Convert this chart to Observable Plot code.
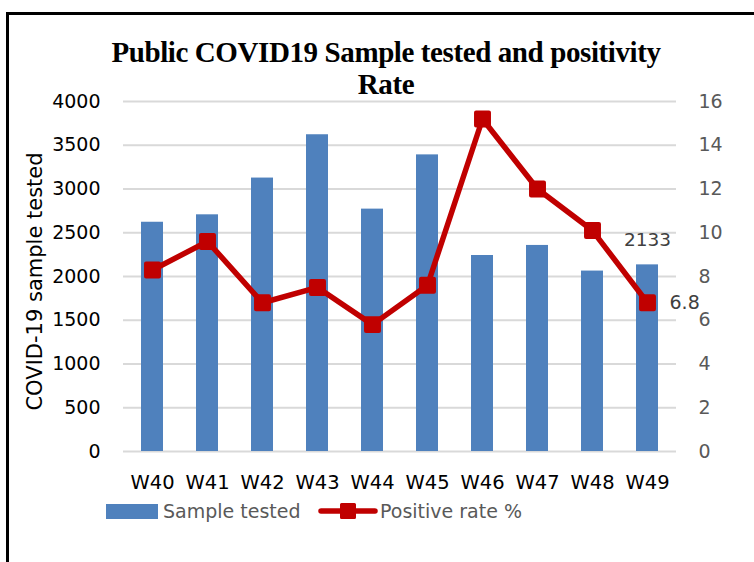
<!DOCTYPE html>
<html>
<head>
<meta charset="utf-8">
<script src="https://cdn.jsdelivr.net/npm/d3@7"></script>
<script src="https://cdn.jsdelivr.net/npm/@observablehq/plot@0.6"></script>
<style>
  html, body { margin: 0; padding: 0; background: #fff; }
  body { width: 754px; height: 562px; position: relative; overflow: hidden; }
  #frame { position: absolute; left: 6px; top: 12px; width: 800px; height: 600px;
           border-top: 3px solid #000; border-left: 3px solid #000; }
  #title { position: absolute; left: 0; top: 36px; width: 772px; text-align: center;
           font-family: "Liberation Serif", "Times New Roman", serif; font-weight: bold;
           font-size: 29px; line-height: 32px; letter-spacing: -0.4px; color: #000; }
  #chart { position: absolute; left: 0; top: 90px; }
  .leg { position: absolute; font-family: "DejaVu Sans", sans-serif; font-size: 19px; color: #595959; line-height: 22px; white-space: nowrap; }
</style>
</head>
<body>
<div id="frame"></div>
<div id="title">Public COVID19 Sample tested and positivity<br>Rate</div>
<div id="chart"></div>
<div id="legend"></div>
<script>
// ---- data ----
const weeks   = ["W40","W41","W42","W43","W44","W45","W46","W47","W48","W49"];
const samples = [2620, 2705, 3125, 3620, 2770, 3390, 2240, 2355, 2062, 2133];
const rates   = [8.3, 9.6, 6.8, 7.5, 5.8, 7.6, 15.2, 12.0, 10.1, 6.8];
const leftTicks  = [0, 500, 1000, 1500, 2000, 2500, 3000, 3500, 4000];
const rightTicks = [0, 2, 4, 6, 8, 10, 12, 14, 16];
const seriesNames = ["Sample tested", "Positive rate %"];
const yTitle = "COVID-19 sample tested";

const BLUE = "#4F81BD", RED = "#C00000";
const k = leftTicks[leftTicks.length - 1] / rightTicks[rightTicks.length - 1]; // secondary axis factor

const rows = weeks.map((w, i) => ({week: w, sample: samples[i], rate: rates[i]}));
const last = rows[rows.length - 1];

const chart = Plot.plot({
  width: 754,
  height: 410,
  marginTop: 11,
  marginBottom: 49,
  marginLeft: 123,
  marginRight: 78,
  style: {fontFamily: "DejaVu Sans, sans-serif", fontSize: "19px", background: "transparent"},
  x: {domain: weeks, paddingInner: 0.6, paddingOuter: 0.3},
  y: {domain: [0, 4000]},
  marks: [
    Plot.gridY(leftTicks, {stroke: "#d9d9d9", strokeOpacity: 1, strokeWidth: 2}),
    Plot.barY(rows, {x: "week", y: "sample", fill: BLUE}),
    Plot.line(rows, {x: "week", y: d => d.rate * k, stroke: RED, strokeWidth: 5.5, strokeLinejoin: "round"}),
    Plot.dot(rows, {x: "week", y: d => d.rate * k, symbol: "square", r: 7.3, fill: RED, stroke: RED, strokeWidth: 4, strokeLinejoin: "round"}),
    Plot.axisX({tickSize: 0, tickPadding: 24, fill: "#000", fontSize: 19.5, label: null}),
    Plot.axisY(leftTicks, {anchor: "left", tickSize: 0, tickPadding: 23, fill: "#000", fontSize: 19,
      tickFormat: d => String(d), label: null}),
    Plot.axisY(rightTicks.map(t => t * k), {anchor: "right", tickSize: 0, tickPadding: 22, fill: "#595959", fontSize: 19,
      tickFormat: d => String(d / k), label: null}),
    Plot.text([yTitle], {frameAnchor: "left", rotate: -90, dx: -88, dy: 5, fontSize: 21, fill: "#000",
      textAnchor: "middle", lineAnchor: "middle"}),
    Plot.text([last], {x: "week", y: "sample", text: d => String(d.sample), dy: -25, fill: "#404040", fontSize: 18.5}),
    Plot.text([last], {x: "week", y: d => d.rate * k, text: d => String(d.rate.toFixed(1)), dx: 22, textAnchor: "start", fill: "#404040", fontSize: 19})
  ]
});
document.getElementById("chart").appendChild(chart);

// ---- legend ----
const legend = document.getElementById("legend");
legend.innerHTML = `
  <div style="position:absolute;left:106px;top:504px;width:52px;height:15px;background:${BLUE}"></div>
  <div class="leg" style="left:163px;top:500px">${seriesNames[0]}</div>
  <svg style="position:absolute;left:318px;top:499px" width="60" height="24">
    <line x1="3" y1="12" x2="57" y2="12" stroke="${RED}" stroke-width="5.5" stroke-linecap="round"/>
    <rect x="23.5" y="5.5" width="13" height="13" fill="${RED}" stroke="${RED}" stroke-width="3" stroke-linejoin="round"/>
  </svg>
  <div class="leg" style="left:380px;top:500px">${seriesNames[1]}</div>`;
</script>
</body>
</html>
